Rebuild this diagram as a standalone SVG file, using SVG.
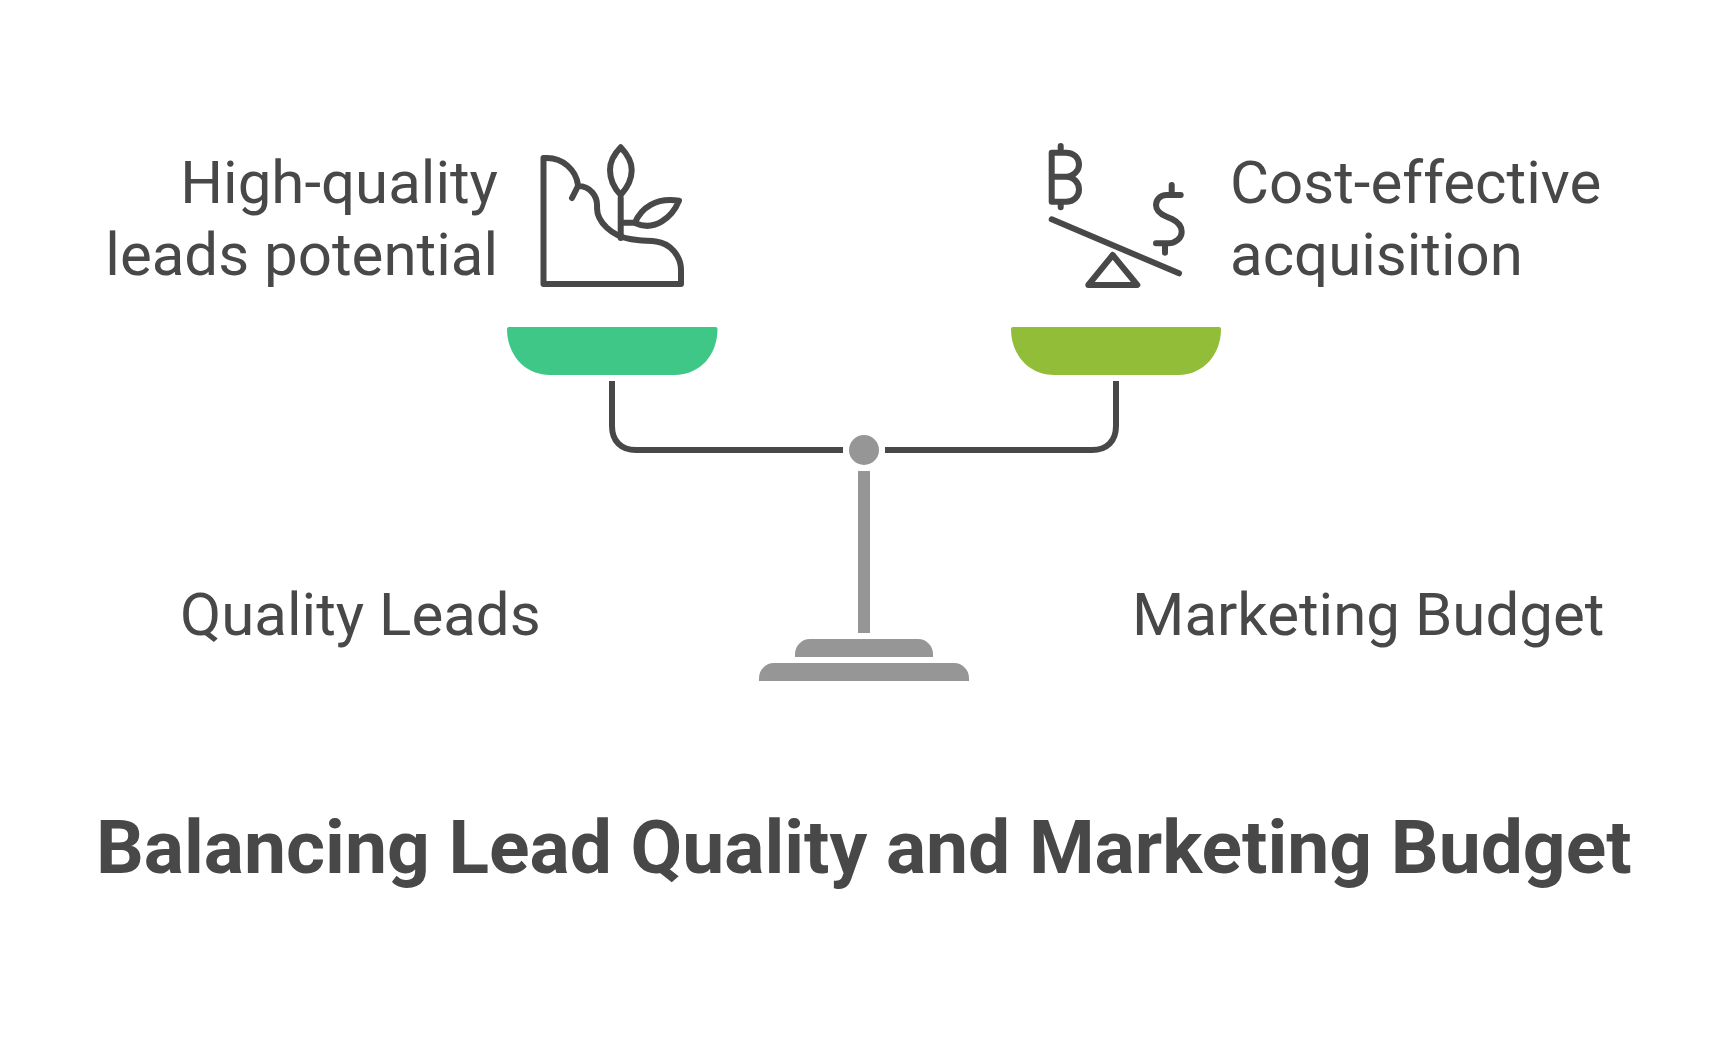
<svg xmlns="http://www.w3.org/2000/svg" width="1728" height="1044" viewBox="0 0 1728 1044">
<style>
text{font-family:Roboto,"Liberation Sans",sans-serif;fill:#484848}
.l{font-size:60px}
.t{font-size:75px;font-weight:700}
.i{fill:none;stroke:#484848;stroke-width:6px;stroke-linecap:round;stroke-linejoin:round}
.g{fill:#969696}
.b{fill:none;stroke:#484848;stroke-width:6px}
</style>
<rect width="1728" height="1044" fill="#fff"/>
<g id="left-pan"><path d="M507 329a2 2 0 0 1 2-2H715.500a2 2 0 0 1 2 2C717.500 354 701 375 674 375H550C524 375 507 354 507 329Z" fill="#3EC786"/></g>
<g id="right-pan"><path d="M1011 329a2 2 0 0 1 2-2H1219a2 2 0 0 1 2 2C1221 354 1204 375 1178 375H1054C1028 375 1011 354 1011 329Z" fill="#92BD39"/></g>
<g id="connectors">
<path class="b" d="M612 381V426C612 441 621 450 636 450H843"/>
<path class="b" d="M1116 381V426C1116 441 1107 450 1092 450H885"/>
</g>
<g id="fulcrum">
<circle class="g" cx="864" cy="450" r="15"/>
<rect class="g" x="858" y="471" width="12" height="162"/>
<path class="g" d="M795 657V654A15 15 0 0 1 810 639H918A15 15 0 0 1 933 654V657Z"/>
<path class="g" d="M759 681V678A15 15 0 0 1 774 663H954A15 15 0 0 1 969 678V681Z"/>
</g>
<g id="plant-icon" class="i">
<path d="M578 185C576 170 563 158 547 158H543.500V284H681V270C681 256 670 243 656 241.500C648 240.500 640 241 630 239C612 236 597 222 597 208C598 196 590 186 578 186L572 198"/>
<path d="M620.700 238V198M620.700 195C613 187 610 178 610 170C610 162 613 155 620.700 147.300C628 155 631.700 162 631.700 170C631.700 178 628 187 620.700 195Z"/>
<path d="M623 222.700H635C641 208 656 197 679 200.700C672 218 654 232 635 223"/>
</g>
<g id="seesaw-icon" class="i">
<path d="M1060.700 146V152.700M1060.700 201.700V207.300M1051.700 176.700H1066C1074 176.700 1079 170 1079 164.700C1079 158 1074 152.700 1066 152.700H1051.700V201.700H1066C1074 201.700 1079 196 1079 189.500C1079 183 1074 176.700 1066 176.700"/>
<path d="M1051.700 219.300L1179 273.300"/>
<path d="M1112.700 255L1137.300 285H1088.300Z"/>
<path d="M1171.700 185V195M1180.700 195H1166.700C1160 195 1156 200 1156 205C1156 211 1160 214 1166.700 216.700L1172 219C1178 222 1181.700 226 1181.700 231.700C1181.700 238 1176 243.300 1168.300 243.300H1156M1165 243.300V252.700"/>
</g>
<g id="label-quality-desc"><text class="l" x="498" y="203" text-anchor="end">High-quality</text><text class="l" x="498" y="275" text-anchor="end">leads potential</text></g>
<g id="label-cost-desc"><text class="l" x="1230" y="203">Cost-effective</text><text class="l" x="1230" y="275">acquisition</text></g>
<g id="label-quality"><text class="l" x="180" y="635">Quality Leads</text></g>
<g id="label-budget"><text class="l" x="1132" y="635">Marketing Budget</text></g>
<g id="title"><text class="t" x="96" y="873">Balancing Lead Quality and Marketing Budget</text></g>
</svg>
